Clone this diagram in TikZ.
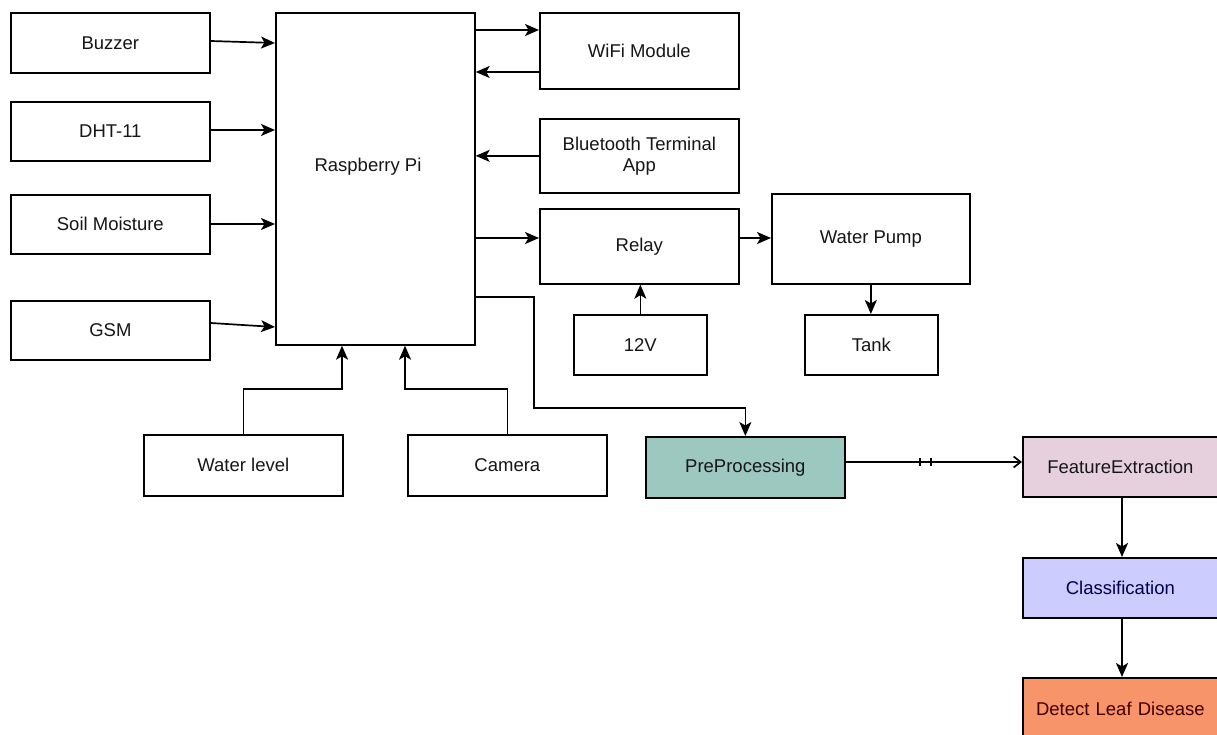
\documentclass[tikz,border=0pt]{standalone}
\usepackage{fontspec}
\setmainfont{Liberation Sans}
\usetikzlibrary{arrows.meta}
\definecolor{ppfill}{HTML}{9CC8C0}
\definecolor{fefill}{HTML}{E6D0DE}
\definecolor{clfill}{HTML}{CCCCFF}
\definecolor{dlfill}{HTML}{F7946A}
\definecolor{txt}{HTML}{161616}
\begin{document}
\begin{tikzpicture}[x=1pt,y=-1pt,
  box/.style={draw=black, line width=1.7pt, rectangle, anchor=north west, inner sep=0pt,
    font=\fontsize{18.5}{21}\selectfont, text=txt, align=center},
  conn/.style={line width=1.7pt, -{Stealth[length=14pt,width=12pt,inset=3.5pt]}},
  plain/.style={line width=1.7pt}]
\useasboundingbox (0,0) rectangle (1217,735);
\fill[white] (0,0) rectangle (1217,735);
% left column
\node[box, minimum width=199pt, minimum height=60pt] (buzzer) at (10,12) {Buzzer};
\node[box, minimum width=199pt, minimum height=59pt] (dht) at (10,101) {DHT-11};
\node[box, minimum width=199pt, minimum height=59pt] (soil) at (10,194) {Soil Moisture};
\node[box, minimum width=199pt, minimum height=59pt] (gsm) at (10,300) {GSM};
% controller
\node[box, minimum width=199pt, minimum height=332pt] (rpi) at (275,12) {};
\node[font=\fontsize{18.5}{21}\selectfont, text=txt] (rpilabel) at (368,167) {Raspberry Pi};
% right of controller
\node[box, minimum width=199pt, minimum height=76pt] (wifi) at (539,12) {WiFi Module};
\node[box, minimum width=199pt, minimum height=74pt] (bt) at (539,118) {Bluetooth Terminal\\App};
\node[box, minimum width=199pt, minimum height=75pt] (relay) at (539,208) {Relay};
\node[box, minimum width=198pt, minimum height=90pt] (pump) at (771,193) {Water Pump};
\node[box, minimum width=133pt, minimum height=60pt] (v12) at (573,314) {12V};
\node[box, minimum width=133pt, minimum height=60pt] (tank) at (804,314) {Tank};
% bottom inputs
\node[box, minimum width=199pt, minimum height=61pt] (wl) at (143,434) {Water level};
\node[box, minimum width=199pt, minimum height=61pt] (cam) at (407,434) {Camera};
% image pipeline
\node[box, fill=ppfill, minimum width=199pt, minimum height=61pt] (pp) at (645,436) {PreProcessing};
\node[box, fill=fefill, minimum width=200pt, minimum height=60pt, text width=195pt] (fe) at (1022,436) {FeatureExtraction\hspace*{5pt}};
\node[box, fill=clfill, minimum width=200pt, minimum height=60pt, text=black!70!blue, text width=195pt] (cl) at (1022,557) {Classification\hspace*{5pt}};
\node[box, fill=dlfill, minimum width=200pt, minimum height=62pt, text=black!75!red, text width=195pt] (dl) at (1022,677) {Detect Leaf Disease\hspace*{5pt}};
% coordinates
\coordinate (b1) at (rpi.east |- 0,297);
\coordinate (b2) at (534,297);
\coordinate (b3) at (534,408);
\coordinate (b4) at (pp.north |- 0,408);
\coordinate (w1) at (wl.north |- 0,389);
\coordinate (w2) at (342,389);
\coordinate (c1) at (cam.north |- 0,389);
\coordinate (c2) at (405,389);
% connectors: inputs
\draw[conn] (buzzer.east |- 0,41) -- (rpi.west |- 0,43);
\draw[conn] (dht.east |- 0,130) -- (rpi.west |- 0,130);
\draw[conn] (soil.east |- 0,224) -- (rpi.west |- 0,224);
\draw[conn] (gsm.east |- 0,323) -- (rpi.west |- 0,327);
% controller <-> modules
\draw[conn] (rpi.east |- 0,30) -- (wifi.west |- 0,30);
\draw[conn] (wifi.west |- 0,72) -- (rpi.east |- 0,72);
\draw[conn] (bt.west) -- (rpi.east |- bt.west);
\draw[conn] (rpi.east |- 0,238) -- (relay.west |- 0,238);
\draw[conn] (relay.east |- 0,238) -- (pump.west |- 0,238);
\draw[conn] (v12.north) -- (relay.south -| v12.north);
\draw[conn] (pump.south) -- (tank.north -| pump.south);
% bottom inputs
\draw[conn] (wl.north) -- (w1) -- (w2) -- (rpi.south -| w2);
\draw[conn] (cam.north) -- (c1) -- (c2) -- (rpi.south -| c2);
% pipeline
\draw[conn] (b1) -- (b2) -- (b3) -- (b4) -- (pp.north);
\draw[plain, -{Straight Barb[length=7pt,width=11pt]}] (pp.east |- 0,462) -- (fe.west |- 0,462);
\draw[line width=1.2pt] (920,458) -- (920,466) (931,458) -- (931,466);
\draw[conn] (fe.south -| 1122,0) -- (cl.north -| 1122,0);
\draw[conn] (cl.south -| 1122,0) -- (dl.north -| 1122,0);
\end{tikzpicture}
\end{document}
